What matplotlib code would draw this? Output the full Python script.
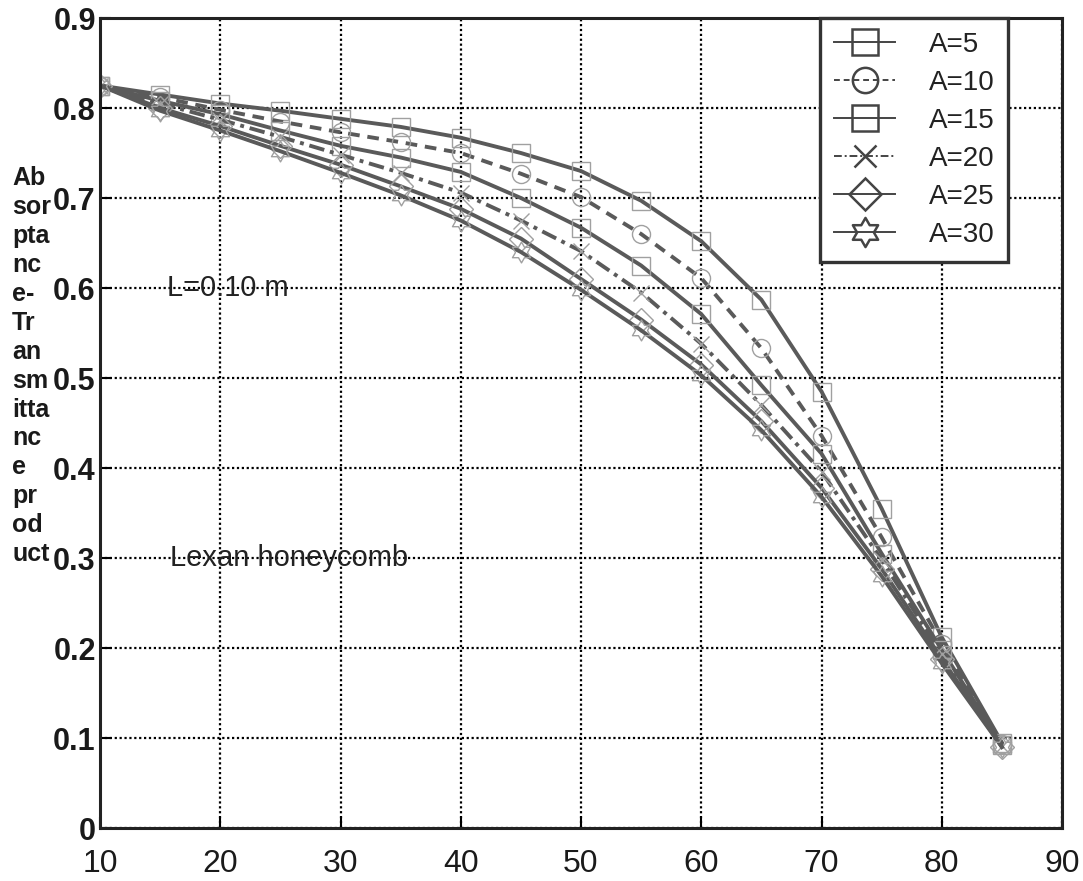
import matplotlib
matplotlib.use("Agg")
import matplotlib.pyplot as plt
from matplotlib.path import Path

# Tilt angle of the honeycomb collector (degrees)
angles = [10, 15, 20, 25, 30, 35, 40, 45, 50, 55, 60, 65, 70, 75, 80, 85]

# Absorptance-transmittance product for each aspect ratio A
a5  = [0.825, 0.815, 0.805, 0.797, 0.788, 0.779, 0.767, 0.750, 0.730, 0.697, 0.652, 0.587, 0.485, 0.355, 0.212, 0.095]
a10 = [0.825, 0.812, 0.798, 0.785, 0.773, 0.762, 0.750, 0.727, 0.701, 0.660, 0.611, 0.533, 0.436, 0.323, 0.205, 0.093]
a15 = [0.825, 0.808, 0.793, 0.775, 0.758, 0.745, 0.729, 0.700, 0.667, 0.625, 0.571, 0.492, 0.416, 0.305, 0.198, 0.092]
a20 = [0.825, 0.805, 0.787, 0.768, 0.748, 0.728, 0.706, 0.675, 0.641, 0.595, 0.538, 0.470, 0.396, 0.298, 0.193, 0.091]
a25 = [0.825, 0.800, 0.780, 0.758, 0.737, 0.713, 0.688, 0.655, 0.610, 0.565, 0.515, 0.452, 0.378, 0.288, 0.188, 0.090]
a30 = [0.825, 0.797, 0.775, 0.752, 0.728, 0.703, 0.675, 0.640, 0.598, 0.553, 0.503, 0.442, 0.368, 0.280, 0.183, 0.090]

series_labels = ["A=5", "A=10", "A=15", "A=20", "A=25", "A=30"]
x_ticks = [10, 20, 30, 40, 50, 60, 70, 80, 90]
y_ticks = [0, 0.1, 0.2, 0.3, 0.4, 0.5, 0.6, 0.7, 0.8, 0.9]
y_tick_labels = ["0", "0.1", "0.2", "0.3", "0.4", "0.5", "0.6", "0.7", "0.8", "0.9"]

plt.rcParams["font.family"] = ["Liberation Sans", "DejaVu Sans"]

fig = plt.figure(figsize=(10.83, 8.81), dpi=100)
ax = fig.add_axes([100 / 1083, 1 - 828 / 881, 962 / 1083, 810 / 881])

hexagram = Path.unit_regular_star(6, 0.577)
styles = [
    dict(ls="-", marker="s"),
    dict(ls=(0, (3, 2)), marker="o"),
    dict(ls="-", marker="s"),
    dict(ls=(0, (4, 1.5, 1, 1.5)), marker="x"),
    dict(ls="-", marker="D"),
    dict(ls="-", marker=hexagram),
]
sizes = [13, 13, 13, 11, 12, 15]

line_color = "#5a5a5a"
for vals, lab, st, ms in zip([a5, a10, a15, a20, a25, a30], series_labels, styles, sizes):
    ax.plot(angles, vals, color=line_color, lw=2.8, linestyle=st["ls"],
            marker=st["marker"], markersize=ms, markerfacecolor="none",
            markeredgecolor="#a0a0a0", markeredgewidth=1.0, label=lab)

ax.set_xlim(10, 90)
ax.set_ylim(0, 0.9)
ax.set_xticks(x_ticks)
ax.set_yticks(y_ticks)
ax.set_yticklabels(y_tick_labels)

ax.grid(True, color="black", linestyle=(0, (1, 1.2)), linewidth=1.6)
for sp in ax.spines.values():
    sp.set_linewidth(2.2)
    sp.set_color("#222222")

ax.tick_params(axis="y", direction="in", length=8, width=1.5, labelsize=22, pad=3)
ax.tick_params(axis="x", direction="in", length=8, width=1.5, labelsize=23, pad=15)
for t in ax.get_yticklabels():
    t.set_fontweight("bold")
    t.set_color("#1a1a1a")
for t in ax.get_xticklabels():
    t.set_color("#1a1a1a")

ax.text(15.6, 0.6, "L=0.10 m", fontsize=21, va="center", ha="left", color="#222222")
ax.text(15.8, 0.3, "Lexan honeycomb", fontsize=21, va="center", ha="left", color="#222222")

fig.text(12 / 1083, 1 - 166 / 881,
         "Ab\nsor\npta\nnc\ne-\nTr\nan\nsm\nitta\nnc\ne\npr\nod\nuct",
         fontsize=18, fontweight="bold", ha="left", va="top", linespacing=1.26,
         color="#1a1a1a")

leg = ax.legend(loc="upper right", bbox_to_anchor=(0.944, 1.0), borderaxespad=0,
                fontsize=20, handlelength=2.2, handletextpad=1.2, labelspacing=0.43,
                borderpad=0.5, markerscale=1.4, fancybox=False, framealpha=1)
leg.get_frame().set_edgecolor("#333333")
leg.get_frame().set_linewidth(2.4)
for h in leg.legend_handles:
    h.set_markeredgecolor("#444444")
    h.set_markeredgewidth(1.8)
    h.set_color("#444444")
    h.set_linewidth(1.4)
for t in leg.get_texts():
    t.set_color("#222222")

fig.savefig("out.png", dpi=100, facecolor="white")
